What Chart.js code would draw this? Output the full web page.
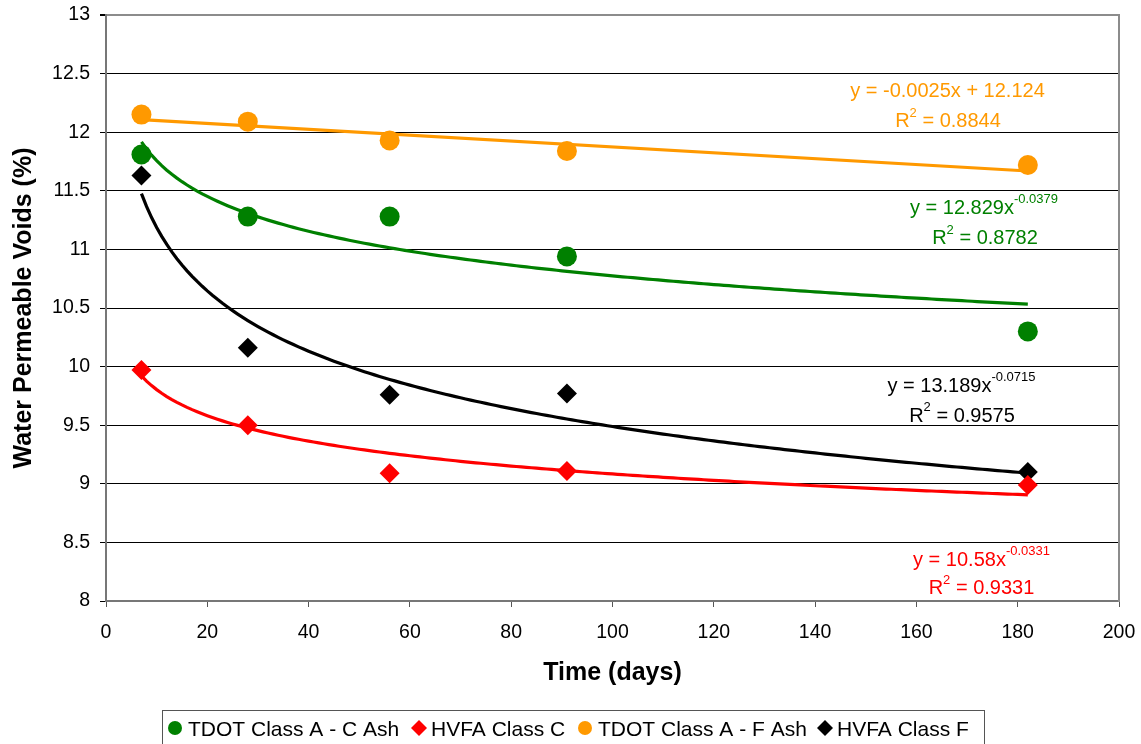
<!DOCTYPE html>
<html><head><meta charset="utf-8">
<script src="https://cdn.jsdelivr.net/npm/chart.js@4.4.1/dist/chart.umd.min.js"></script>
<style>html,body{margin:0;padding:0;background:#fff;} canvas{display:block;}</style>
</head><body>
<canvas id="c" width="1141" height="744"></canvas>
<script>
// ---------- data ----------
const days = [7, 28, 56, 91, 182];
const tdotC = [11.81, 11.28, 11.28, 10.94, 10.30];
const hvfaC = [9.97, 9.50, 9.09, 9.11, 8.99];
const tdotF = [12.15, 12.09, 11.93, 11.84, 11.72];
const hvfaF = [11.63, 10.16, 9.76, 9.77, 9.10];
const seriesNames = ['TDOT Class A - C Ash', 'HVFA Class C', 'TDOT Class A - F Ash', 'HVFA Class F'];
// trendlines as printed on the chart (power: y = a*x^b, linear: y = a*x + b)
const trendKind = ['power', 'power', 'linear', 'power'];
const trendA = [12.829, 10.58, -0.0025, 13.189];
const trendB = [-0.0379, -0.0331, 12.124, -0.0715];
const trendR2 = ['0.8782', '0.9331', '0.8844', '0.9575'];
const xTickLabels = ['0','20','40','60','80','100','120','140','160','180','200'];
const yTickLabels = ['8','8.5','9','9.5','10','10.5','11','11.5','12','12.5','13'];
const xTitle = 'Time (days)';
const yTitle = 'Water Permeable Voids (%)';

// ---------- styles ----------
const FONT = '"Liberation Sans", Arial, sans-serif';
const colors = ['#008000', '#FF0000', '#FF9900', '#000000'];
const shapes = ['circle', 'rectRot', 'circle', 'rectRot'];
const seriesValues = [tdotC, hvfaC, tdotF, hvfaF];

function trendPoints(i) {
  const x0 = days[0], x1 = days[days.length - 1];
  const pts = [];
  if (trendKind[i] === 'linear') {
    [x0, x1].forEach(x => pts.push({x, y: trendA[i] * x + trendB[i]}));
  } else {
    for (let x = x0; x <= x1; x += 1) pts.push({x, y: trendA[i] * Math.pow(x, trendB[i])});
  }
  return pts;
}

const datasets = [];
seriesValues.forEach((vals, i) => {
  datasets.push({
    type: 'scatter', label: seriesNames[i],
    data: days.map((d, k) => ({x: d, y: vals[k]})),
    pointStyle: shapes[i], pointRadius: 10, pointHoverRadius: 10,
    backgroundColor: colors[i], borderColor: colors[i], borderWidth: 0,
    order: 0
  });
});
seriesValues.forEach((vals, i) => {
  datasets.push({
    type: 'line', label: 'trend ' + i,
    data: trendPoints(i),
    borderColor: colors[i], borderWidth: 3.2, pointRadius: 0, fill: false, tension: 0,
    order: 1
  });
});

function drawRich(ctx, parts, cx, cy, color) {
  const main = '20px ' + FONT, sup = '13px ' + FONT;
  let w = 0;
  parts.forEach(p => { ctx.font = p.sup ? sup : main; p.w = ctx.measureText(p.t).width; w += p.w; });
  let x = cx - w / 2;
  const base = cy + 7.2;
  ctx.fillStyle = color; ctx.textAlign = 'left'; ctx.textBaseline = 'alphabetic';
  parts.forEach(p => { ctx.font = p.sup ? sup : main; ctx.fillText(p.t, x, p.sup ? base - 10.5 : base); x += p.w; });
}

const annoPos = [[984, 206.5, 985, 237], [981.5, 558.5, 981.5, 587], [947.5, 89.7, 948, 120], [961.5, 384.5, 962, 414.5]];
const legendMarkX = [175, 419, 585, 825];
const legendTextX = [188, 431, 598, 837];

const extras = {
  id: 'extras',
  afterDraw(chart) {
    const ctx = chart.ctx, a = chart.chartArea;
    ctx.save();
    // right border
    ctx.strokeStyle = '#8c8c8c'; ctx.lineWidth = 2;
    ctx.beginPath(); ctx.moveTo(a.right, a.top - 1); ctx.lineTo(a.right, a.bottom + 1); ctx.stroke();
    // trend equations
    for (let i = 0; i < 4; i++) {
      const p = annoPos[i];
      let line1;
      if (trendKind[i] === 'linear') line1 = [{t: 'y = ' + trendA[i] + 'x + ' + trendB[i]}];
      else line1 = [{t: 'y = ' + trendA[i] + 'x'}, {t: String(trendB[i]), sup: true}];
      drawRich(ctx, line1, p[0], p[1], colors[i]);
      drawRich(ctx, [{t: 'R'}, {t: '2', sup: true}, {t: ' = ' + trendR2[i]}], p[2], p[3], colors[i]);
    }
    // axis titles
    ctx.fillStyle = '#000';
    ctx.font = 'bold 25px ' + FONT; ctx.textAlign = 'center'; ctx.textBaseline = 'alphabetic';
    ctx.fillText(xTitle, (a.left + a.right) / 2, 680);
    ctx.save(); ctx.translate(31, 308); ctx.rotate(-Math.PI / 2); ctx.fillText(yTitle, 0, 0); ctx.restore();
    // legend
    ctx.strokeStyle = '#555'; ctx.lineWidth = 1;
    ctx.strokeRect(162.5, 710.5, 822, 60);
    for (let i = 0; i < 4; i++) {
      const mx = legendMarkX[i], my = 728;
      ctx.fillStyle = colors[i];
      ctx.beginPath();
      if (shapes[i] === 'circle') ctx.arc(mx, my, 7, 0, Math.PI * 2);
      else { ctx.moveTo(mx - 8, my); ctx.lineTo(mx, my - 8); ctx.lineTo(mx + 8, my); ctx.lineTo(mx, my + 8); ctx.closePath(); }
      ctx.fill();
      ctx.fillStyle = '#000'; ctx.font = '21px ' + FONT; ctx.textAlign = 'left';
      ctx.fillText(seriesNames[i], legendTextX[i], 735.5);
    }
    ctx.restore();
  }
};

new Chart(document.getElementById('c'), {
  type: 'scatter',
  data: {datasets},
  options: {
    responsive: false, animation: false, devicePixelRatio: 1,
    layout: {autoPadding: false, padding: {left: 0, right: 22, top: 15, bottom: 0}},
    plugins: {legend: {display: false}, tooltip: {enabled: false}},
    events: [],
    scales: {
      x: {
        type: 'linear', min: 0, max: 200,
        afterFit(s) { s.height = 143; },
        afterBuildTicks(s) { s.ticks = xTickLabels.map(v => ({value: Number(v)})); },
        ticks: {stepSize: 20, color: '#000', font: {family: FONT, size: 19.5, lineHeight: '51px'}, padding: 0, maxRotation: 0,
                callback: (v) => String(v)},
        grid: {drawOnChartArea: false, drawTicks: true, tickLength: 6, tickColor: '#555', lineWidth: 1},
        border: {display: true, color: '#777', width: 2}
      },
      y: {
        type: 'linear', min: 8, max: 13,
        afterFit(s) { s.width = 106; },
        afterBuildTicks(s) { s.ticks = yTickLabels.map(v => ({value: Number(v)})); },
        ticks: {stepSize: 0.5, color: '#000', font: {family: FONT, size: 19.5, lineHeight: 0.5}, padding: 10,
                callback: (v) => String(v)},
        grid: {
          drawTicks: true, tickLength: 6, tickColor: '#000',
          color: (c) => (c.tick && (c.tick.value === 13 || c.tick.value === 8)) ? '#8c8c8c' : '#000',
          lineWidth: (c) => (c.tick && c.tick.value === 13) ? 2 : 1
        },
        border: {display: true, color: '#777', width: 2}
      }
    }
  },
  plugins: [extras]
});
</script>
</body></html>
